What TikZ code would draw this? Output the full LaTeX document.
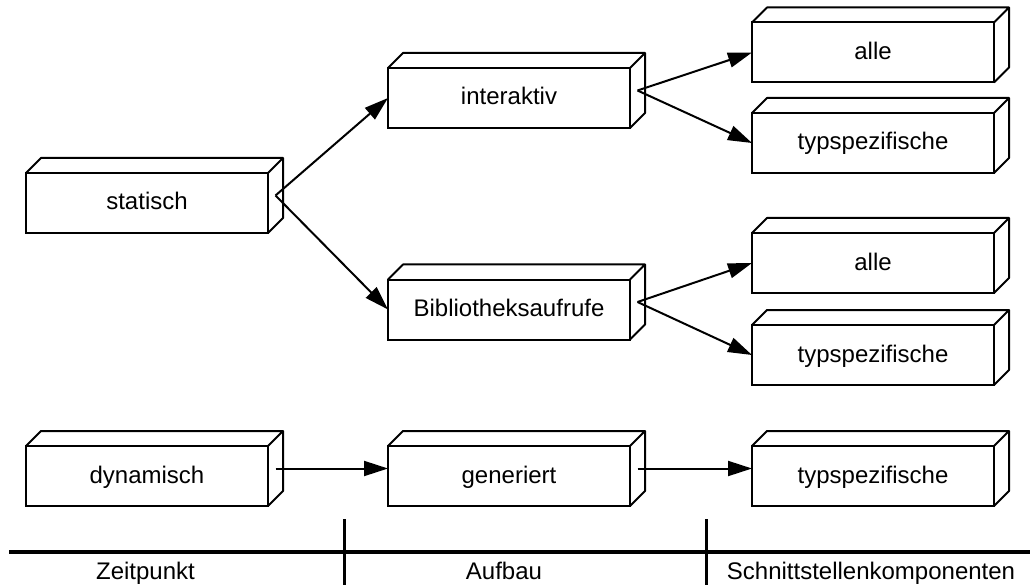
\documentclass[tikz,border=0pt]{standalone}
\usepackage{fontspec}
\setmainfont{Liberation Sans}
\usetikzlibrary{arrows.meta}

% A box drawn as a cuboid: front face is the node, top and side faces follow
\newcommand\quader[3]{%
  \node[cube] (#1) at #2 {#3};
  \draw[cubeline] (#1.north west) -- ++(15,-15)
    -- ([shift={(15,-15)}]#1.north east)
    -- ([shift={(15,-15)}]#1.south east) -- (#1.south east)
    (#1.north east) -- ([shift={(15,-15)}]#1.north east);
}

\begin{document}
\begin{tikzpicture}[x=1pt,y=-1pt,
  cube/.style={draw, line width=2pt, fill=white, minimum width=242pt,
    minimum height=60pt, inner sep=0pt, outer sep=0pt,
    text height=19pt, text depth=5pt,
    font=\fontsize{24}{29}\selectfont},
  cubeline/.style={line width=2pt, line join=round},
  arr/.style={line width=2pt, -{Triangle[length=24pt,width=15pt]}},
  axis/.style={line width=3.5pt},
  label/.style={text height=19pt, text depth=5pt, inner sep=0pt,
    font=\fontsize{24}{29}\selectfont}]
\useasboundingbox (0,0) rectangle (1030,585);

% boxes
\quader{stat}{(147,203)}{statisch}
\quader{inter}{(509,98)}{interaktiv}
\quader{alleA}{(873,52.5)}{alle}
\quader{typA}{(873,143)}{typspezifische}
\quader{bib}{(509,309.5)}{Bibliotheksaufrufe}
\quader{alleB}{(873,263)}{alle}
\quader{typB}{(873,355)}{typspezifische}
\quader{dyn}{(147,476)}{dynamisch}
\quader{gen}{(509,476)}{generiert}
\quader{typC}{(873,476)}{typspezifische}

% connectors, starting at the middle of each side face
\draw[arr] ([shift={(7.5,-7.5)}]stat.east) -- (inter.west);
\draw[arr] ([shift={(7.5,-7.5)}]stat.east) -- (bib.west);
\draw[arr] ([shift={(7.5,-7.5)}]inter.east) -- (alleA.west);
\draw[arr] ([shift={(7.5,-7.5)}]inter.east) -- (typA.west);
\draw[arr] ([shift={(7.5,-7.5)}]bib.east) -- (alleB.west);
\draw[arr] ([shift={(7.5,-7.5)}]bib.east) -- (typB.west);
\draw[arr] ([shift={(7.5,-7.5)}]dyn.east) -- ([yshift=7.5pt]gen.west);
\draw[arr] ([shift={(7.5,-7.5)}]gen.east) -- ([yshift=7.5pt]typC.west);

% axis with column captions
\coordinate (axL) at (9,552);
\coordinate (axR) at (1030,552);
\coordinate (s1t) at (344,519);
\coordinate (s1b) at (344,585);
\coordinate (s2t) at (706,519);
\coordinate (s2b) at (706,585);
\draw[axis] (axL) -- (axR);
\draw[line width=3pt] (s1t) -- (s1b);
\draw[line width=3pt] (s2t) -- (s2b);
\node[label] (zp) at (145.5,572) {Zeitpunkt};
\node[label] (af) at (504,572) {Aufbau};
\node[label] (sk) at (871,572) {Schnittstellenkomponenten};
\end{tikzpicture}
\end{document}
